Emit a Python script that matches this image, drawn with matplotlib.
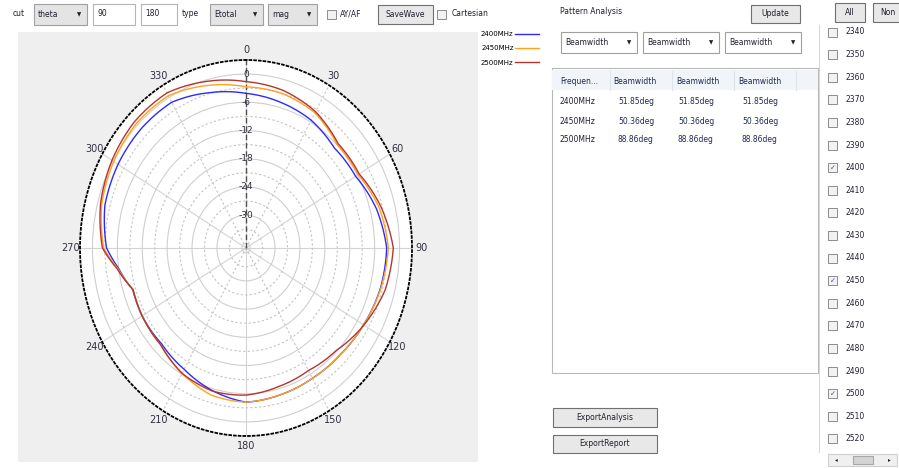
import numpy as np
import matplotlib.pyplot as plt
from matplotlib.patches import Rectangle

# --- Patrón de radiación (dB) ---
angulos = [0, 15, 30, 45, 60, 75, 90, 105, 120, 135, 150, 165, 180, 195, 210,
           225, 240, 252, 262, 270, 285, 300, 315, 330, 345, 360]
g2400 = [-4.1, -4.9, -5.6, -6.9, -6.5, -4.5, -3.1, -3.5, -4.3, -4.9, -5.0, -4.7, -4.2,
         -5.6, -7.2, -8.2, -8.1, -8.3, -6.0, -3.4, -1.8, -1.4, -1.2, -1.2, -2.8, -4.1]
g2450 = [-2.7, -3.0, -3.8, -5.9, -5.8, -3.8, -2.7, -3.4, -4.3, -4.9, -5.0, -4.7, -4.2,
         -4.6, -6.2, -7.9, -8.1, -8.4, -5.8, -2.7, -1.0, -0.2, 0.4, 0.4, -1.2, -2.7]
g2500 = [-1.6, -2.3, -3.5, -5.6, -5.5, -3.3, -1.5, -2.3, -4.2, -6.2, -6.9, -6.5, -5.7,
         -5.5, -6.2, -7.9, -8.1, -8.4, -5.6, -2.4, -0.7, 0.3, 1.0, 1.1, -0.3, -1.6]
series = [g2400, g2450, g2500]
nombres = ['2400MHz', '2450MHz', '2500MHz']
colores = ['#2a2aff', '#ffa31a', '#b5352f']

r_min, r_max = -37, 3
anillos_mayores = [-36, -30, -24, -18, -12, -6, 0]
anillos_menores = [-33, -27, -21, -15, -9, -3]
etiquetas_r = [0, -6, -12, -18, -24, -30]
radios_mayores = [0, 60, 90, 120, 180, 240, 270, 300]
radios_menores = [30, 150, 210, 330]
etiquetas_ang = list(range(0, 360, 30))

# --- Tabla de análisis ---
cabecera = ['Frequen...', 'Beamwidth', 'Beamwidth', 'Beamwidth']
tabla_frec = ['2400MHz', '2450MHz', '2500MHz']
tabla_bw = ['51.85deg', '50.36deg', '88.86deg']

# --- Lista de frecuencias ---
lista_frec = [2340, 2350, 2360, 2370, 2380, 2390, 2400, 2410, 2420, 2430,
              2440, 2450, 2460, 2470, 2480, 2490, 2500, 2510, 2520]
marcadas = [2400, 2450, 2500]

fig = plt.figure(figsize=(8.99, 4.68), dpi=100)
fig.patch.set_facecolor('white')

# capa de fondo en píxeles para la interfaz
bg = fig.add_axes([0, 0, 1, 1])
bg.set_xlim(0, 899)
bg.set_ylim(468, 0)
bg.axis('off')

def caja(x, y, w, h, fc='white', ec='#b4b4b4', lw=0.8):
    bg.add_patch(Rectangle((x, y), w, h, fc=fc, ec=ec, lw=lw))

def texto(x, y, s, size=5.5, **kw):
    kw.setdefault('color', '#202030')
    bg.text(x, y, s, fontsize=size, va='center', **kw)

def combo(x, y, w, h, s, fc='#e4e4e4'):
    caja(x, y, w, h, fc=fc, ec='#a0a0a0')
    texto(x + 4, y + h / 2, s)
    texto(x + w - 8, y + h / 2, '▼', size=4, ha='center')

def boton(x, y, w, h, s):
    caja(x, y, w, h, fc='#e8e8e8', ec='#707070')
    texto(x + w / 2, y + h / 2, s, ha='center')

def check(x, y, marcado=False):
    caja(x, y, 9, 9, fc='#f2f2f2', ec='#8c8c8c', lw=0.7)
    if marcado:
        texto(x + 4.5, y + 4.5, '✓', size=5, ha='center', color='#3a4aa0')

# barra superior
texto(13, 14, 'cut')
combo(34, 4, 53, 21, 'theta')
caja(93, 4, 42, 21)
texto(97, 14, '90')
caja(141, 4, 36, 21)
texto(145, 14, '180')
texto(182, 14, 'type')
combo(210, 4, 53, 21, 'Etotal')
combo(268, 4, 49, 21, 'mag')
check(327, 10)
texto(340, 14, 'AY/AF')
boton(378, 5, 55, 19, 'SaveWave')
check(437, 10)
texto(452, 14, 'Cartesian')

# panel gris del gráfico
bg.add_patch(Rectangle((18, 32), 460, 430, fc='#efefef', ec='none'))

# panel de análisis
texto(560, 12, 'Pattern Analysis')
boton(751, 5, 49, 18, 'Update')
for x0 in [561, 643, 725]:
    combo(x0, 32, 76, 21, 'Beamwidth', fc='white')
caja(552, 68, 266, 305, ec='#b8b8b8')
caja(552, 70, 266, 20, fc='#f1f5fa', ec='none')
cols = [560, 613, 676, 738]
for x0, s in zip(cols, cabecera):
    texto(x0, 82, s, color='#1c2c50')
for x0 in [610, 672, 734, 796]:
    bg.plot([x0, x0], [71, 90], color='#dde3ea', lw=0.8)
for i, (f, bw) in enumerate(zip(tabla_frec, tabla_bw)):
    yy = 102 + 19 * i
    texto(560, yy, f)
    for x0 in [618, 678, 742]:
        texto(x0, yy, bw, color='#202a50')
boton(553, 408, 104, 19, 'ExportAnalysis')
boton(553, 435, 104, 18, 'ExportReport')

# lista de frecuencias
boton(835, 3, 30, 19, 'All')
boton(873, 3, 30, 19, 'Non')
bg.plot([819, 819], [25, 452], color='#d8d8d8', lw=0.8)
for i, f in enumerate(lista_frec):
    yy = 32 + 22.6 * i
    check(828, yy - 4.5, f in marcadas)
    texto(845, yy, str(f))
caja(828, 454, 69, 12, fc='#f0f0f0', ec='#d0d0d0')
caja(853, 456, 20, 8, fc='#d4d4d4', ec='#a8a8a8')
texto(836, 460, '◂', size=4, ha='center')
texto(889, 460, '▸', size=4, ha='center')

# --- Gráfico polar ---
ax = fig.add_axes([80 / 899, 32 / 468, 332 / 899, 376 / 468], projection='polar')
ax.set_aspect('auto')
ax.set_facecolor('white')
ax.set_theta_zero_location('N')
ax.set_theta_direction(-1)
ax.set_ylim(r_min, r_max)

ax.set_yticks(anillos_mayores)
ax.set_yticks(anillos_menores, minor=True)
ax.set_yticklabels([])
ax.set_xticks(np.deg2rad(radios_mayores))
ax.set_xticks(np.deg2rad(radios_menores), minor=True)
ax.set_xticklabels([])
ax.tick_params(which='both', length=0)
ax.yaxis.grid(True, which='major', color='#cfcfcf', lw=0.8, ls='-')
ax.yaxis.grid(True, which='minor', color='#c4c4c4', lw=0.8, ls=(0, (2, 2)))
ax.xaxis.grid(True, which='major', color='#d4d4d4', lw=0.8, ls='-')
ax.xaxis.grid(True, which='minor', color='#c4c4c4', lw=0.8, ls=(0, (2, 2)))

ax.spines['polar'].set_linestyle((0, (1, 1.6)))
ax.spines['polar'].set_linewidth(1.3)
ax.spines['polar'].set_color('black')

ax.axvline(0, color='#505050', lw=1.0, ls=(0, (4, 2)), zorder=2)

for g, nom, c in zip(series, nombres, colores):
    linea, = ax.plot(np.deg2rad(angulos), g, color=c, lw=1.0, label=nom, zorder=3)
    # que el eje polar dibuje los tramos como curvas y no como cuerdas
    linea.get_path()._interpolation_steps = 12

for r in etiquetas_r:
    ax.text(0, r, str(r), ha='center', va='center', fontsize=6.5, color='#303040', zorder=4)
for a in etiquetas_ang:
    ax.text(np.deg2rad(a), r_max + 2.2, str(a), ha='center', va='center',
            fontsize=7, color='#303040', clip_on=False)

h, l = ax.get_legend_handles_labels()
fig.legend(h, l, loc='upper left', bbox_to_anchor=(481 / 899, 1 - 31 / 468),
           frameon=False, fontsize=5, markerfirst=False, handlelength=3.5,
           handletextpad=0.2, labelspacing=1.2, borderpad=0, borderaxespad=0)

fig.savefig('out.png', dpi=100)
